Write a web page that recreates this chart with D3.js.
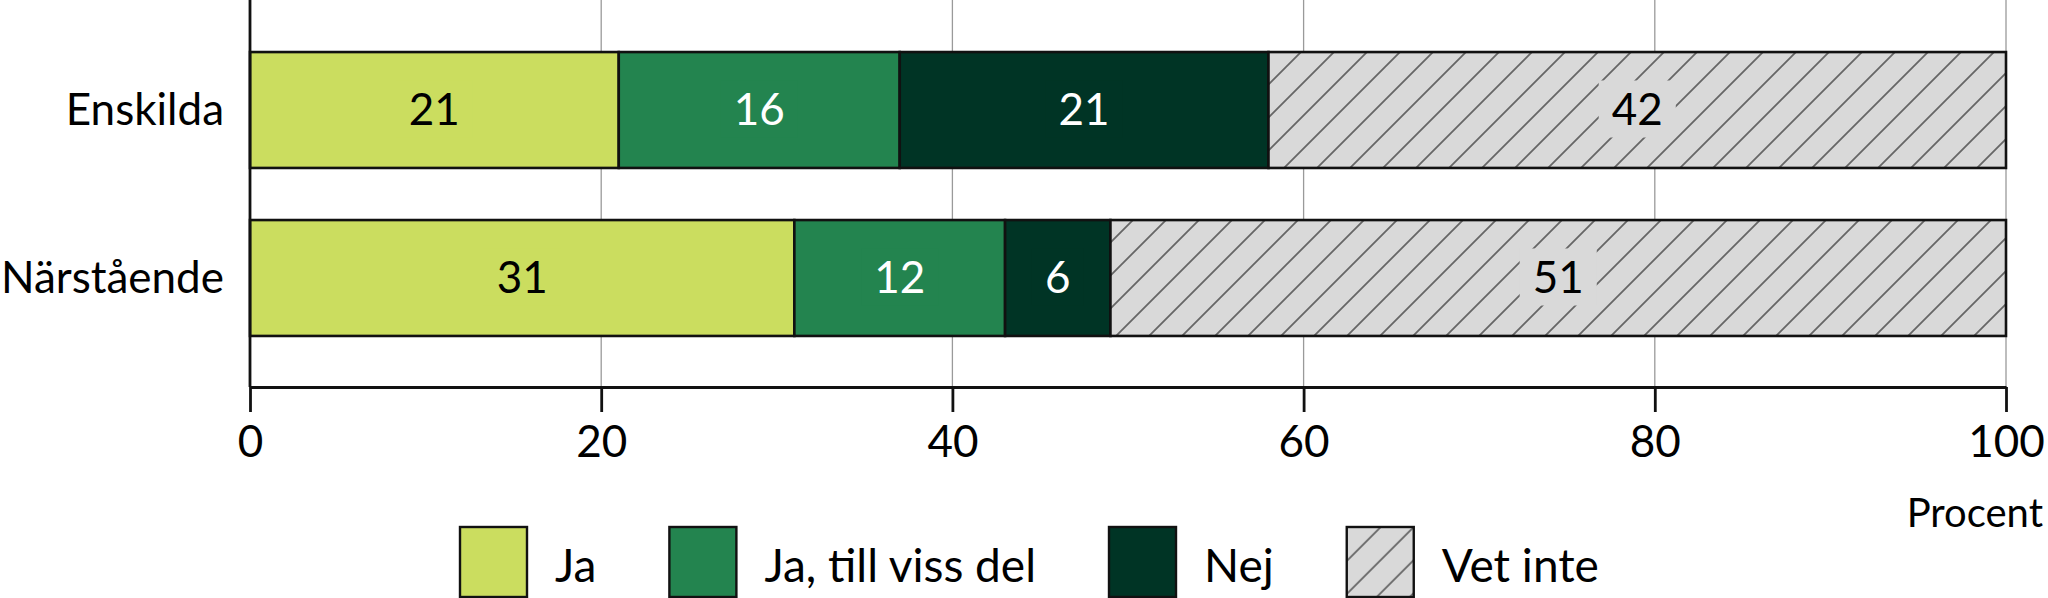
<!DOCTYPE html>
<html>
<head>
<meta charset="utf-8">
<script src="https://cdn.jsdelivr.net/npm/d3@7"></script>
<style>
  html, body { margin: 0; padding: 0; background: #fff; }
  svg { display: block; }
  text { font-family: Lato, "Noto Sans", sans-serif; }
</style>
</head>
<body>
<svg id="chart" width="2048" height="598"></svg>
<script>
const categories = ["Enskilda", "Närstående"];
const seriesNames = ["Ja", "Ja, till viss del", "Nej", "Vet inte"];
const ja = [21, 31];
const jaDel = [16, 12];
const nej = [21, 6];
const vetInte = [42, 51];
const xTicks = [0, 20, 40, 60, 80, 100];
const axisTitle = "Procent";

const colors = ["#cbdd5f", "#23844f", "#003425", "url(#hatch)"];
const labelBg = ["#cbdd5f", "#23844f", "#003425", "#d9d9d9"];
const labelColors = ["#000", "#fff", "#fff", "#000"];

const table = categories.map((c, i) => ({
  cat: c,
  [seriesNames[0]]: ja[i],
  [seriesNames[1]]: jaDel[i],
  [seriesNames[2]]: nej[i],
  [seriesNames[3]]: vetInte[i]
}));

const svg = d3.select("#chart");

const defs = svg.append("defs");
const pat = defs.append("pattern")
  .attr("id", "hatch")
  .attr("patternUnits", "userSpaceOnUse")
  .attr("width", 33).attr("height", 33);
pat.append("rect").attr("width", 33).attr("height", 33).attr("fill", "#d9d9d9");
pat.append("path")
  .attr("d", "M-1,34 L34,-1 M-9,9 L9,-9 M24,42 L42,24")
  .attr("stroke", "#666").attr("stroke-width", 1.8);

const x = d3.scaleLinear().domain([0, 100]).range([250, 2006]);
const y = d3.scaleBand().domain(categories).range([26, 362])
  .paddingInner(0.31).paddingOuter(0.155);
const axisY = 387;

// gridlines
svg.append("g").selectAll("line").data(xTicks.filter(d => d > 0)).join("line")
  .attr("x1", d => x(d)).attr("x2", d => x(d))
  .attr("y1", 0).attr("y2", axisY)
  .attr("stroke", "#9a9a9a").attr("stroke-width", 1.3);

const stack = d3.stack().keys(seriesNames)(table);

const layers = svg.append("g").selectAll("g").data(stack).join("g");
layers.each(function(layer, si) {
  const g = d3.select(this);
  g.selectAll("rect").data(layer).join("rect")
    .attr("x", d => x(d[0]))
    .attr("width", d => x(d[1]) - x(d[0]))
    .attr("y", d => y(d.data.cat))
    .attr("height", y.bandwidth())
    .attr("fill", colors[si])
    .attr("stroke", "#111").attr("stroke-width", 2.6);
});

// value labels
layers.each(function(layer, si) {
  const g = d3.select(this);
  layer.forEach(d => {
    const cx = (x(d[0]) + x(d[1])) / 2;
    const base = y(d.data.cat) + y.bandwidth() / 2 + 15;
    const t = g.append("text")
      .attr("x", cx).attr("y", base)
      .attr("text-anchor", "middle")
      .attr("font-size", 44)
      .attr("fill", labelColors[si])
      .text(d[1] - d[0]);
    const w = t.node().getComputedTextLength();
    g.insert("rect", function() { return t.node(); })
      .attr("x", cx - w / 2 - 13).attr("width", w + 26)
      .attr("y", base - 16 - 28.5).attr("height", 57)
      .attr("fill", labelBg[si]);
  });
});

// y axis line
svg.append("line").attr("x1", 250).attr("x2", 250).attr("y1", 0).attr("y2", axisY)
  .attr("stroke", "#111").attr("stroke-width", 2.8);

// category labels
svg.append("g").selectAll("text").data(categories).join("text")
  .attr("x", 224)
  .attr("y", d => y(d) + y.bandwidth() / 2 + 15)
  .attr("text-anchor", "end")
  .attr("font-size", 44)
  .attr("fill", "#000")
  .text(d => d);

// x axis
const xAxis = d3.axisBottom(x).tickValues(xTicks).tickSize(25).tickPadding(14).tickSizeOuter(0);
const gx = svg.append("g").attr("transform", `translate(0,${axisY})`).call(xAxis);
gx.select(".domain").attr("stroke", "#111").attr("stroke-width", 3.2);
gx.selectAll(".tick line").attr("stroke", "#111").attr("stroke-width", 2.8);
gx.selectAll(".tick text").attr("font-size", 44).attr("fill", "#000")
  .attr("font-family", "Lato, 'Noto Sans', sans-serif")
  .attr("dy", null).attr("y", 70);

svg.append("text").attr("x", 2043).attr("y", 527)
  .attr("text-anchor", "end").attr("font-size", 40).attr("fill", "#000")
  .text(axisTitle);

// legend
const legend = svg.append("g");
const boxW = 67, boxH = 70, gapText = 28, gapItem = 73;
let cursor = 0;
seriesNames.forEach((name, i) => {
  const g = legend.append("g");
  g.append("rect").attr("x", 0).attr("y", 527).attr("width", boxW).attr("height", boxH)
    .attr("fill", colors[i]).attr("stroke", "#111").attr("stroke-width", 2.4);
  const t = g.append("text").attr("x", boxW + gapText).attr("y", 582)
    .attr("font-size", 46).attr("fill", "#000").text(name);
  const w = boxW + gapText + t.node().getComputedTextLength();
  g.attr("transform", `translate(${cursor},0)`);
  cursor += w + gapItem;
});
legend.attr("transform", "translate(460,0)");
</script>
</body>
</html>
